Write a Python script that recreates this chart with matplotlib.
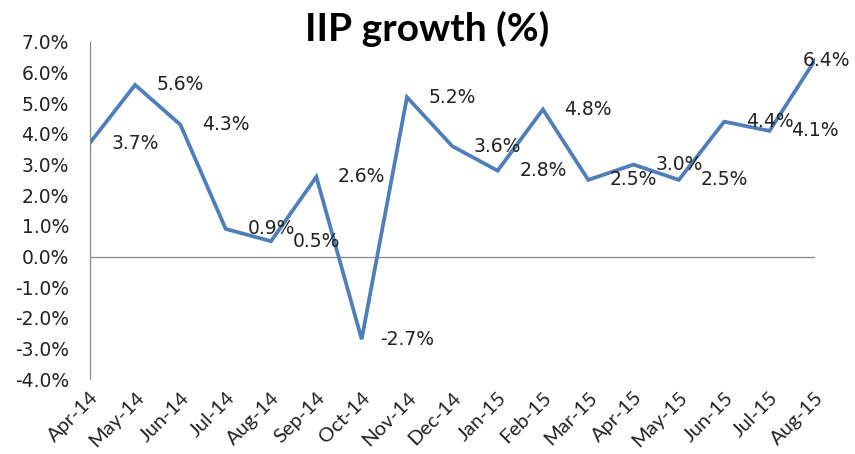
import matplotlib
matplotlib.use("Agg")
import matplotlib.pyplot as plt
from matplotlib.ticker import FuncFormatter

# IIP growth data
months = ["Apr-14", "May-14", "Jun-14", "Jul-14", "Aug-14", "Sep-14", "Oct-14", "Nov-14",
          "Dec-14", "Jan-15", "Feb-15", "Mar-15", "Apr-15", "May-15", "Jun-15", "Jul-15", "Aug-15"]
growth = [3.7, 5.6, 4.3, 0.9, 0.5, 2.6, -2.7, 5.2, 3.6, 2.8, 4.8, 2.5, 3.0, 2.5, 4.4, 4.1, 6.4]
y_ticks = [-4, -3, -2, -1, 0, 1, 2, 3, 4, 5, 6, 7]

fig = plt.figure(figsize=(8.55, 4.54), dpi=100)
ax = fig.add_axes([0.105, 0.165, 0.848, 0.7425])

x = list(range(len(months)))
ax.plot(x, growth, color="#4F7EBB", linewidth=2.7, solid_joinstyle="miter")
ax.axhline(0, color="#888888", linewidth=0.9, zorder=0)

# Excel-style data labels, drawn one category to the right
n = len(growth)
for i, v in enumerate(growth):
    lx = i + 1 if i < n - 1 else n - 1 + 0.25
    ax.text(lx, v, f"{v:.1f}%", ha="center", va="center", fontsize=13.5,
            color="#222222", clip_on=False)

ax.set_xlim(0, n - 1)
ax.set_ylim(-4, 7)
ax.set_yticks(y_ticks)
ax.yaxis.set_major_formatter(FuncFormatter(lambda v, p: f"{v:.1f}%"))
ax.set_xticks(x)
ax.set_xticklabels(months, rotation=45, ha="right", rotation_mode="anchor",
                   fontsize=14.5, family="Lato")
ax.tick_params(axis="y", length=0, labelsize=13.5, pad=15, colors="#222222")
ax.tick_params(axis="x", length=0, pad=7, colors="#222222")

for s in ["top", "right", "bottom"]:
    ax.spines[s].set_visible(False)
ax.spines["left"].set_color("#888888")
ax.spines["left"].set_linewidth(0.9)

fig.text(0.5, 0.91, "IIP growth (%)", ha="center", va="baseline", fontsize=28,
         fontweight="bold", family="Lato")

fig.savefig("out.png", dpi=100)
